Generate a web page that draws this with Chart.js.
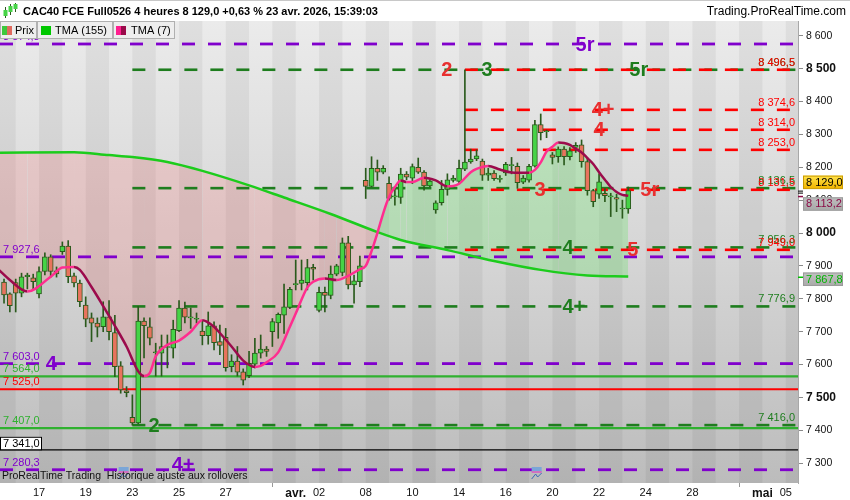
<!DOCTYPE html>
<html>
<head>
<meta charset="utf-8">
<script src="https://cdn.jsdelivr.net/npm/chart.js@4.4.1/dist/chart.umd.min.js"></script>
<style>
  html, body { margin: 0; padding: 0; background: #fff; }
  #wrap { width: 850px; height: 500px; position: relative; }
</style>
</head>
<body>
<div id="wrap"><canvas id="chart" width="850" height="500"></canvas></div>
<script>
// 4 bougies de 4h par séance, slot 0 = première bougie du 16 mars
var firstSlot = -2;
var opens  = [7851,7815,7849,7817,7867,7864,7815,7883,7928,7885,7943,7960,7870,7848,7781,7742,7726,7715,7745,7697,7596,7520,
              7440,7423,7732,7715,7636,7635,7652,7650,7703,7772,7742,7738,7702,7688,7718,7670,7683,7594,7611,7578,
              7566,7601,7635,7647,7700,7727,7750,7774,7843,7847,7849,7896,7765,7820,7810,7875,7880,7970,7842,7852,
              8160,8142,8197,8185,8151,8110,8108,8179,8167,8200,8185,8143,8070,8092,8133,8160,8157,8194,8216,8225,
              8219,8176,8182,8163,8183,8205,8203,8155,8161,8203,8330,8308,8238,8232,8255,8232,8260,8268,8217,8129,
              8118,8121,8110,8108,8073,8073];
var highs  = [7860,7818,7860,7878,7878,7875,7897,7940,7934,7897,7973,7977,7878,7857,7806,7757,7742,7791,7795,7750,7609,7533,
              7508,7777,7742,7742,7665,7690,7690,7735,7795,7790,7772,7757,7733,7760,7730,7720,7710,7630,7655,7587,
              7640,7680,7690,7655,7740,7757,7845,7835,7918,7918,7920,7905,7836,7836,7900,7905,7985,7990,7872,7930,
              8197,8232,8222,8205,8171,8137,8197,8187,8210,8228,8190,8162,8098,8160,8180,8175,8222,8496.5,8255,8253,
              8225,8197,8190,8175,8215,8230,8213,8175,8209,8343,8362,8313,8245,8262,8263,8260,8275,8283,8230,8133,
              8180,8135,8121,8118,8100,8140];
var lows   = [7787,7760,7760,7806,7830,7830,7803,7873,7866,7866,7935,7849,7836,7776,7715,7670,7684,7700,7675,7563,7513,7502,
              7416,7420,7620,7660,7565,7565,7590,7620,7700,7727,7710,7726,7660,7662,7645,7630,7580,7578,7565,7538,
              7560,7590,7620,7625,7655,7680,7695,7770,7827,7827,7827,7857,7760,7760,7800,7870,7870,7830,7787,7837,
              8105,8140,8160,8180,8100,8085,8090,8162,8150,8181,8130,8140,8060,8085,8115,8155,8150,8190,8212,8220,
              8160,8160,8160,8155,8175,8180,8136,8150,8155,8200,8283,8290,8210,8215,8207,8222,8245,8200,8115,8080,
              8105,8095,8050,8065,8045,8060];
var closes = [7812,7779,7817,7867,7872,7852,7883,7928,7883,7876,7960,7867,7848,7791,7738,7726,7714,7745,7700,7594,7523,7515,
              7423,7732,7718,7680,7638,7655,7652,7707,7772,7744,7742,7738,7688,7718,7667,7658,7591,7611,7577,7553,
              7604,7635,7647,7640,7731,7753,7776,7829,7845,7857,7895,7890,7820,7810,7875,7900,7970,7842,7855,7900,
              8142,8197,8185,8197,8105,8110,8179,8170,8202,8185,8143,8158,8092,8133,8162,8167,8197,8216,8225,8235,
              8176,8182,8165,8163,8209,8207,8153,8167,8203,8330,8305,8308,8230,8255,8232,8250,8267,8217,8129,8095,
              8156,8114,8110,8103,8073,8129];

// TMA (155) et TMA (7)
var tma155Slots  = [-3, 10, 16, 20, 26, 32, 40, 46, 54, 62, 66, 74, 82, 90, 98, 105];
var tma155Values = [8244,8246,8237,8231,8216,8189,8145,8108,8058,8003,7979,7948,7915,7888,7871,7867.8];
var tma7Slots  = [-3,-1,2,6,8,10,11,13,15,17,19,21,22,23,24,26,28,30,32,34,35,37,39,41,42,43,45,47,48,50,51,53,55,57,59,
                  60,61,62,63,64,65,66,67,68,70,72,74,75,76,78,79,81,83,85,88,89,90,91,92,93,94,95,96,97,98,99,100,
                  101,102,103,104,105];
var tma7Values = [7890,7857,7822,7867,7895,7897,7888,7836,7778,7718,7655,7580,7565,7575,7625,7660,7673,7700,7735,7715,
                  7696,7655,7612,7593,7596,7607,7637,7715,7755,7835,7852,7862,7857,7870,7890,7900,7945,8000,8060,8110,
                  8140,8160,8155,8155,8168,8160,8142,8143,8150,8185,8195,8204,8193,8184,8183,8192,8215,8248,8262,8275,
                  8274,8268,8256,8245,8228,8210,8185,8162,8140,8125,8116,8113.2];

// niveaux horizontaux
var purpleLevels = [8574.8, 7927.6, 7603.0, 7280.3];
var greenLevels  = [8496.5, 8136.5, 7956.3, 7776.9, 7416.0];
var redLevels    = [8496.5, 8374.6, 8314.0, 8253.0, 8131.5, 7949.0];
var greenSolid   = [7564.0, 7407.0];
var redSolid     = [7525.0];
var blackSolid   = [7341.0];
var lastPrice = 8129.0, lastTma7 = 8113.2, lastTma155 = 7867.8;

// axe des x : séances (jour 0 = 16 mars)
var xTickDays   = [1, 3, 5, 7, 9, 12, 13, 15, 17, 19, 21, 23, 25, 27, 29, 32, 33];
var xTickLabels = ['17','19','23','25','27','avr.','02','08','10','14','16','20','22','24','28','mai','05'];
var monthEndDays = [11, 31];
var yTicks = [7300,7400,7500,7600,7700,7800,7900,8000,8100,8200,8300,8400,8500,8600];

var FONT = '"Liberation Sans", Arial, sans-serif';
var PURPLE = '#8000cc', DGREEN = '#1e7d1e', LGREEN = '#2fb12f', RED = '#ff0000', TRED = '#e83030';
var CANDLE_LINE = '#2a5a1c';

// étiquettes des niveaux (texte, couleur, slot, niveau)
var tags = [
  ['5r', PURPLE, 97.6, 8574.8], ['2', TRED, 73.9, 8496.5], ['3', DGREEN, 80.8, 8496.5], ['5r', DGREEN, 106.8, 8496.5],
  ['4+', TRED, 100.7, 8374.6], ['4', TRED, 100.0, 8314.0], ['3', TRED, 89.9, 8131.5], ['5r', TRED, 108.7, 8131.5],
  ['4', DGREEN, 94.7, 7956.3], ['5', TRED, 105.8, 7949.0], ['4+', DGREEN, 95.7, 7776.9],
  ['4', PURPLE, 6.1, 7603.0], ['2', DGREEN, 23.7, 7416.0], ['4+', PURPLE, 28.7, 7296]
];

function fmt(v, dec) {
  var parts = v.toFixed(dec).split('.');
  var ip = parts[0].replace(/\B(?=(\d{3})+(?!\d))/g, ' ');
  return parts.length > 1 ? ip + ',' + parts[1] : ip;
}

var wicks = [], bodies = [], bodyColors = [];
for (var i = 0; i < opens.length; i++) {
  var s = firstSlot + i;
  wicks.push({x: s, y: [lows[i], highs[i]]});
  bodies.push({x: s, y: [opens[i], closes[i]]});
  bodyColors.push(closes[i] >= opens[i] ? '#46d346' : '#e8735d');
}
var tma155 = tma155Slots.map(function (s, i) { return {x: s, y: tma155Values[i]}; });
var tma7 = tma7Slots.map(function (s, i) { return {x: s, y: tma7Values[i]}; });

function hline(ctx, area, y, x0, color, width, dashed) {
  ctx.save();
  ctx.beginPath();
  ctx.strokeStyle = color;
  ctx.lineWidth = width;
  ctx.setLineDash(dashed ? [13, 13] : []);
  ctx.moveTo(x0, y);
  ctx.lineTo(area.right, y);
  ctx.stroke();
  ctx.restore();
}

function text(ctx, str, x, y, color, font, align) {
  ctx.fillStyle = color;
  ctx.font = font;
  ctx.textAlign = align || 'left';
  ctx.textBaseline = 'middle';
  ctx.fillText(str, x, y);
}

function axisBox(ctx, y, str, bg1, bg2, fg, border) {
  var g = ctx.createLinearGradient(0, y - 6, 0, y + 6);
  g.addColorStop(0, bg1); g.addColorStop(1, bg2);
  ctx.fillStyle = g;
  ctx.fillRect(803, y - 6.5, 40, 13);
  ctx.strokeStyle = border; ctx.lineWidth = 1;
  ctx.strokeRect(803.5, y - 6, 39, 12.5);
  text(ctx, str, 806, y + 0.5, fg, '11px ' + FONT);
}

var bgPlugin = {
  id: 'bg',
  beforeDraw: function (chart) {
    var ctx = chart.ctx, a = chart.chartArea, xs = chart.scales.x;
    ctx.save();
    ctx.fillStyle = '#fff';
    ctx.fillRect(0, 0, chart.width, chart.height);
    var g = ctx.createLinearGradient(0, a.top, 0, a.bottom);
    g.addColorStop(0, '#ebebeb');
    g.addColorStop(0.5, '#d6d6d6');
    g.addColorStop(1, '#bcbcbc');
    ctx.fillStyle = g;
    ctx.fillRect(a.left, a.top, a.right - a.left, a.bottom - a.top);
    ctx.beginPath();
    ctx.rect(a.left, a.top, a.right - a.left, a.bottom - a.top);
    ctx.clip();
    ctx.fillStyle = 'rgba(0,0,0,0.05)';
    for (var d = -1; d <= 35; d++) {
      if (Math.abs(d % 2) !== 1) continue;
      var x0 = xs.getPixelForValue(d * 4), x1 = xs.getPixelForValue(d * 4 + 4);
      ctx.fillRect(x0, a.top, x1 - x0, a.bottom - a.top);
    }
    ctx.restore();
  }
};

var levelsPlugin = {
  id: 'levels',
  beforeDatasetsDraw: function (chart) {
    var ctx = chart.ctx, a = chart.chartArea, xs = chart.scales.x, ys = chart.scales.y;
    ctx.save();
    ctx.beginPath();
    ctx.rect(a.left, a.top, a.right - a.left, a.bottom - a.top);
    ctx.clip();
    greenSolid.forEach(function (v) { hline(ctx, a, ys.getPixelForValue(v), a.left, LGREEN, 2.2, false); });
    redSolid.forEach(function (v) { hline(ctx, a, ys.getPixelForValue(v), a.left, RED, 2.2, false); });
    blackSolid.forEach(function (v) { hline(ctx, a, ys.getPixelForValue(v), a.left, '#000', 1.2, false); });
    purpleLevels.forEach(function (v) { hline(ctx, a, ys.getPixelForValue(v), a.left, PURPLE, 2.8, true); });
    var gx = xs.getPixelForValue(20), rx = xs.getPixelForValue(77);
    greenLevels.forEach(function (v) { hline(ctx, a, ys.getPixelForValue(v), gx, DGREEN, 2.6, true); });
    redLevels.forEach(function (v) { hline(ctx, a, ys.getPixelForValue(v), rx, RED, 2.6, true); });
    ctx.restore();
  },
  afterDatasetsDraw: function (chart) {
    var ctx = chart.ctx, a = chart.chartArea, xs = chart.scales.x, ys = chart.scales.y;
    ctx.save();
    var f = '11px ' + FONT;
    // étiquettes à gauche
    purpleLevels.forEach(function (v) { text(ctx, fmt(v, 1), 3, ys.getPixelForValue(v) - 7, PURPLE, f); });
    greenSolid.forEach(function (v) { text(ctx, fmt(v, 1), 3, ys.getPixelForValue(v) - 7, LGREEN, f); });
    redSolid.forEach(function (v) { text(ctx, fmt(v, 1), 3, ys.getPixelForValue(v) - 7, RED, f); });
    blackSolid.forEach(function (v) {
      var y = ys.getPixelForValue(v);
      ctx.fillStyle = '#fff'; ctx.fillRect(0, y - 13, 42, 13);
      ctx.strokeStyle = '#000'; ctx.lineWidth = 1; ctx.strokeRect(0.5, y - 12.5, 41, 12.5);
      text(ctx, fmt(v, 1), 3, y - 6, '#000', f);
    });
    // étiquettes à droite
    greenLevels.forEach(function (v) { text(ctx, fmt(v, 1), 795, ys.getPixelForValue(v) - 7, DGREEN, f, 'right'); });
    redLevels.forEach(function (v) { text(ctx, fmt(v, 1), 795, ys.getPixelForValue(v) - 7, RED, f, 'right'); });
    // gros repères
    tags.forEach(function (t) {
      text(ctx, t[0], xs.getPixelForValue(t[2]), ys.getPixelForValue(t[3]) + 1, t[1], 'bold 20px ' + FONT, 'center');
    });
    ctx.restore();
  },
  afterDraw: function (chart) {
    var ctx = chart.ctx, a = chart.chartArea, xs = chart.scales.x, ys = chart.scales.y;
    ctx.save();
    // en-tête
    ctx.fillStyle = '#fff'; ctx.fillRect(0, 0, chart.width, a.top);
    ctx.fillStyle = '#c8c8c8'; ctx.fillRect(0, 0, chart.width, 1);
    // petite icône bougies
    ctx.fillStyle = CANDLE_LINE;
    ctx.fillRect(5, 7, 1, 11); ctx.fillRect(10, 4, 1, 11); ctx.fillRect(15, 3, 1, 9);
    ctx.fillStyle = '#46d346';
    ctx.fillRect(3.5, 10, 4, 6); ctx.fillRect(8.5, 6, 4, 6); ctx.fillRect(13.5, 4, 4, 5);
    text(ctx, 'CAC40 FCE Full0526 4 heures 8 129,0 +0,63 % 23 avr. 2026, 15:39:03', 23, 12, '#000', 'bold 11px ' + FONT);
    text(ctx, 'Trading.ProRealTime.com', 846, 12, '#000', '12px ' + FONT, 'right');
    // légende
    var boxes = [[0, 37, 'Prix'], [37, 113, 'TMA (155)'], [113, 175, 'TMA (7)']];
    boxes.forEach(function (b) {
      ctx.fillStyle = '#eeeeee'; ctx.fillRect(b[0], 21, b[1] - b[0], 18);
      ctx.strokeStyle = '#b0b0b0'; ctx.lineWidth = 1; ctx.strokeRect(b[0] + 0.5, 21.5, b[1] - b[0] - 1, 17);
      text(ctx, b[2], b[0] + (b[0] === 0 ? 15 : 18), 30.5, '#000', '11px ' + FONT);
    });
    ctx.fillStyle = '#3cc83c'; ctx.fillRect(2, 26, 5, 9);
    ctx.fillStyle = '#e06a5e'; ctx.fillRect(7, 26, 5, 9);
    ctx.fillStyle = '#00c800'; ctx.fillRect(41, 26, 10, 9);
    ctx.fillStyle = '#ff1f8f'; ctx.fillRect(116, 26, 5, 9);
    ctx.fillStyle = '#9a0a4a'; ctx.fillRect(121, 26, 5, 9);
    // repères sur l'axe des prix
    var yp = ys.getPixelForValue(lastPrice), y7 = ys.getPixelForValue(lastTma7), y155 = ys.getPixelForValue(lastTma155);
    ctx.fillStyle = '#000'; ctx.fillRect(798, yp, 5, 1); ctx.fillRect(798, yp + 2, 5, 1);
    ctx.fillStyle = '#8b0a46'; ctx.fillRect(798, y7, 5, 1.5);
    ctx.fillStyle = '#00c000'; ctx.fillRect(798, y155, 5, 1.5);
    axisBox(ctx, yp - 8.5, fmt(lastPrice, 1), '#ffe24a', '#f2b600', '#000', '#c99a00');
    axisBox(ctx, y7 + 8, fmt(lastTma7, 1), '#bdbdbd', '#a9a9a9', '#8b0a46', '#9a9a9a');
    axisBox(ctx, y155 + 2.5, fmt(lastTma155, 1), '#c0c0c0', '#ababab', '#00b400', '#9a9a9a');
    // marques de fin de mois
    ctx.fillStyle = '#999';
    monthEndDays.forEach(function (d) { ctx.fillRect(Math.round(xs.getPixelForValue(d * 4)), a.bottom, 1, 4); });
    // petites icônes de rollover
    [18.5, 89.3].forEach(function (s) {
      var x = xs.getPixelForValue(s);
      ctx.fillStyle = '#7aa6d8'; ctx.fillRect(x - 5, 467, 10, 5);
      ctx.fillStyle = '#d070c0'; ctx.fillRect(x - 5, 471, 10, 2);
      ctx.strokeStyle = '#3a6ab8'; ctx.lineWidth = 1;
      ctx.beginPath(); ctx.moveTo(x - 5, 479); ctx.lineTo(x - 1, 474); ctx.lineTo(x + 1, 477); ctx.lineTo(x + 5, 473); ctx.stroke();
    });
    text(ctx, 'ProRealTime Trading  Historique ajuste aux rollovers', 2, 476, '#111', '10.5px ' + FONT);
    ctx.restore();
  }
};

new Chart(document.getElementById('chart'), {
  type: 'bar',
  data: {
    datasets: [
      { type: 'bar', data: wicks, backgroundColor: CANDLE_LINE, barThickness: 1, grouped: false, order: 4 },
      { type: 'bar', data: bodies, backgroundColor: bodyColors, borderColor: CANDLE_LINE, borderWidth: 1,
        borderSkipped: false, barThickness: 5, grouped: false, minBarLength: 1, order: 3 },
      { type: 'line', data: tma155, borderColor: '#1ccc1c', borderWidth: 2.5, pointRadius: 0,
        cubicInterpolationMode: 'monotone', fill: false, order: 2 },
      { type: 'line', data: tma7, borderWidth: 2.5, pointRadius: 0, cubicInterpolationMode: 'monotone', order: 1,
        borderColor: '#ff2d8f',
        segment: { borderColor: function (c) { return c.p1.parsed.y >= c.p0.parsed.y ? '#ff2d8f' : '#9c0b4c'; } },
        fill: { target: 2, above: 'rgba(110,225,110,0.33)', below: 'rgba(255,105,105,0.2)' } }
    ]
  },
  options: {
    responsive: false,
    devicePixelRatio: 1,
    animation: false,
    layout: { padding: { top: 21, left: 0, right: 0, bottom: 0 } },
    plugins: { legend: { display: false }, tooltip: { enabled: false }, filler: { drawTime: 'beforeDatasetsDraw' } },
    scales: {
      x: {
        type: 'linear', min: -2.69, max: 134.1, offset: false,
        grid: { display: false, drawTicks: false }, border: { display: false },
        afterBuildTicks: function (sc) { sc.ticks = xTickDays.map(function (d) { return {value: d * 4}; }); },
        afterFit: function (sc) { sc.height = 17; },
        ticks: {
          autoSkip: false, maxRotation: 0, padding: 3, color: '#111',
          font: function (c) {
            var lbl = xTickLabels[c.index] || '';
            return isNaN(parseInt(lbl, 10)) ? {family: FONT, size: 12, weight: 'bold'} : {family: FONT, size: 11};
          },
          callback: function (v, i) { return xTickLabels[i]; }
        }
      },
      y: {
        position: 'right', min: 7240, max: 8644.7,
        afterBuildTicks: function (sc) { sc.ticks = yTicks.map(function (v) { return {value: v}; }); },
        afterFit: function (sc) { sc.width = 52; },
        grid: { drawOnChartArea: false, tickLength: 5, color: '#8a8a8a' },
        border: { display: true, color: '#a8a8a8' },
        ticks: {
          padding: 3, color: '#111',
          font: function (c) {
            return c.tick && c.tick.value % 500 === 0 ? {family: FONT, size: 12, weight: 'bold'} : {family: FONT, size: 10.5};
          },
          callback: function (v) { return fmt(v, 0); }
        }
      }
    }
  },
  plugins: [bgPlugin, levelsPlugin]
});
</script>
</body>
</html>
